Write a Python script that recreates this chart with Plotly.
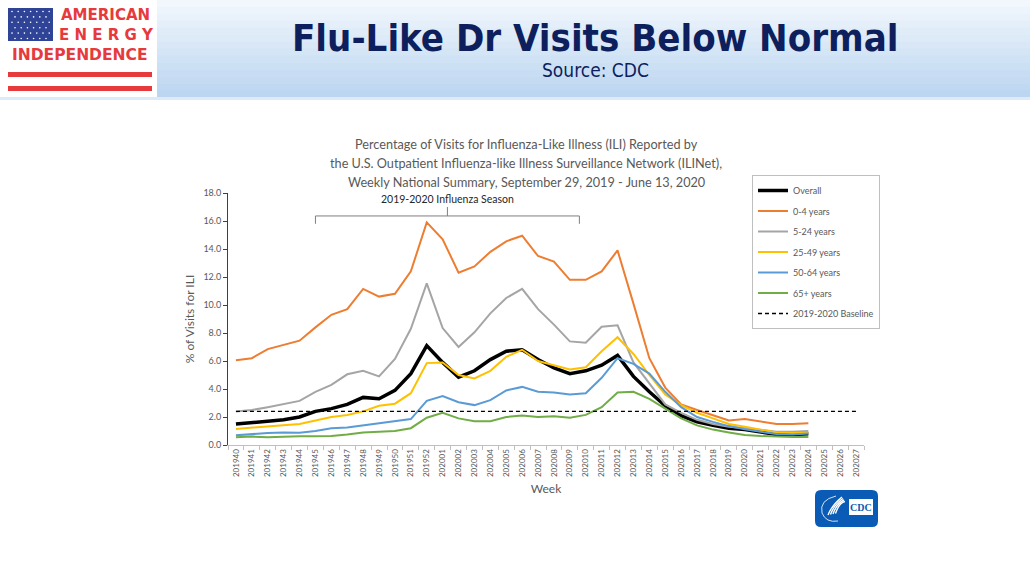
import plotly.graph_objects as go

# weekly national summary, % of visits for ILI
weeks = [f"2019{w}" for w in range(40, 53)] + [f"2020{w:02d}" for w in range(1, 28)]

overall = [1.5, 1.6, 1.7, 1.8, 2.0, 2.4, 2.6, 2.9, 3.4, 3.3, 3.9, 5.1, 7.1,
           5.9, 4.85, 5.3, 6.1, 6.7, 6.8, 6.1, 5.5, 5.1, 5.3, 5.7, 6.4, 4.9, 3.8,
           2.8, 2.1, 1.65, 1.4, 1.2, 1.1, 0.95, 0.75, 0.75, 0.8]
age_0_4 = [6.05, 6.2, 6.85, 7.15, 7.45, 8.4, 9.3, 9.7, 11.15, 10.6, 10.8, 12.4, 15.9,
           14.7, 12.3, 12.75, 13.8, 14.55, 14.95, 13.5, 13.1, 11.8, 11.8, 12.4, 13.9, 10.1, 6.2,
           4.1, 2.9, 2.5, 2.15, 1.75, 1.85, 1.65, 1.5, 1.5, 1.55]
age_5_24 = [2.4, 2.5, 2.7, 2.95, 3.15, 3.8, 4.3, 5.05, 5.3, 4.9, 6.15, 8.3, 11.55,
            8.35, 7.0, 8.05, 9.4, 10.5, 11.15, 9.7, 8.6, 7.4, 7.3, 8.45, 8.55, 5.9, 4.4,
            2.9, 2.3, 1.8, 1.5, 1.3, 1.2, 1.1, 0.95, 0.95, 1.0]
age_25_49 = [1.15, 1.25, 1.35, 1.45, 1.5, 1.75, 2.0, 2.15, 2.4, 2.8, 2.95, 3.7, 5.85,
             5.9, 5.0, 4.75, 5.3, 6.3, 6.8, 6.0, 5.7, 5.4, 5.55, 6.7, 7.7, 6.5, 5.0,
             3.6, 2.85, 2.3, 1.9, 1.5, 1.3, 1.12, 0.9, 0.85, 0.88]
age_50_64 = [0.7, 0.8, 0.85, 0.9, 0.88, 1.0, 1.2, 1.25, 1.4, 1.55, 1.65, 1.85, 3.15,
             3.5, 3.05, 2.85, 3.2, 3.9, 4.15, 3.8, 3.75, 3.6, 3.7, 4.8, 6.2, 5.8, 5.1,
             3.8, 2.7, 2.0, 1.65, 1.35, 1.12, 0.95, 0.78, 0.75, 0.82]
age_65 = [0.55, 0.6, 0.55, 0.6, 0.62, 0.62, 0.65, 0.75, 0.9, 0.95, 1.0, 1.2, 1.95,
          2.3, 1.9, 1.7, 1.7, 2.0, 2.1, 2.0, 2.05, 1.95, 2.15, 2.7, 3.75, 3.8, 3.3,
          2.6, 1.9, 1.4, 1.1, 0.9, 0.72, 0.64, 0.58, 0.57, 0.58]
baseline = 2.4

series = [
    ("Overall", overall, "#000000", 3.5),
    ("0-4 years", age_0_4, "#ED7D31", 2),
    ("5-24 years", age_5_24, "#A5A5A5", 2),
    ("25-49 years", age_25_49, "#FFC000", 2),
    ("50-64 years", age_50_64, "#5B9BD5", 2),
    ("65+ years", age_65, "#70AD47", 2),
]

# plot area in pixels
L, R, T, B = 228, 864, 193, 445


def px(x):
    return (x - L) / (R - L)


def py(y):
    return (B - y) / (B - T)


fig = go.Figure()

for name, vals, color, width in series:
    fig.add_trace(go.Scatter(
        x=weeks[:len(vals)], y=vals, mode="lines", name=name, legendgroup=name,
        line=dict(color=color, width=width),
    ))

fig.add_trace(go.Scatter(
    x=weeks, y=[baseline] * len(weeks), mode="lines", name="2019-2020 Baseline",
    legendgroup="base", line=dict(color="#000000", width=1.3, dash="4px,3px"),
))

shapes = []
annotations = []

# header band (vertical gradient)
top_c = (242, 247, 253)
bot_c = (188, 214, 241)
n = 14
for i in range(n):
    t = i / (n - 1)
    c = tuple(int(top_c[k] + (bot_c[k] - top_c[k]) * t) for k in range(3))
    shapes.append(dict(type="rect", xref="paper", yref="paper", layer="below",
                       x0=px(0), x1=px(1030), y0=py(i * 97 / n), y1=py((i + 1) * 97 / n + 0.5),
                       fillcolor="rgb(%d,%d,%d)" % c, line=dict(width=0)))
shapes.append(dict(type="rect", xref="paper", yref="paper", layer="below",
                   x0=px(0), x1=px(1030), y0=py(97), y1=py(100),
                   fillcolor="#DDEBF8", line=dict(width=0)))

# logo
red = "#E63A3D"
shapes.append(dict(type="rect", xref="paper", yref="paper", x0=px(0), x1=px(157),
                   y0=py(0), y1=py(97), fillcolor="white", line=dict(width=0)))
shapes.append(dict(type="rect", xref="paper", yref="paper", x0=px(8), x1=px(53),
                   y0=py(8), y1=py(41), fillcolor="#2F4496", line=dict(width=0)))
for r in range(6):
    for c in range(7):
        cx = 12 + c * 6.2 + (3 if r % 2 else 0)
        cy = 11.5 + r * 5.4
        if cx > 51:
            continue
        shapes.append(dict(type="circle", xref="paper", yref="paper",
                           x0=px(cx - 0.8), x1=px(cx + 0.8), y0=py(cy - 0.8), y1=py(cy + 0.8),
                           fillcolor="white", line=dict(width=0)))
for y0 in (72, 86):
    shapes.append(dict(type="rect", xref="paper", yref="paper", x0=px(8), x1=px(152),
                       y0=py(y0), y1=py(y0 + 5), fillcolor=red, line=dict(width=0)))
annotations += [
    dict(text="<b>AMERICAN</b>", x=px(106), y=py(15), font=dict(size=15, color=red, family="DejaVu Sans")),
    dict(text="<b>E N E R G Y</b>", x=px(107), y=py(35), font=dict(size=15, color=red, family="DejaVu Sans")),
    dict(text="<b>INDEPENDENCE</b>", x=px(80), y=py(55), font=dict(size=15.5, color=red, family="DejaVu Sans")),
]

# slide titles
annotations += [
    dict(text="<b>Flu-Like Dr Visits Below Normal</b>", x=px(595), y=py(38),
         font=dict(size=38, color="#0D1F5C", family="DejaVu Sans Condensed")),
    dict(text="Source: CDC", x=px(595), y=py(70),
         font=dict(size=19, color="#0D1F5C", family="DejaVu Sans Condensed")),
]

# chart title
chart_title = ["Percentage of Visits for Influenza-Like Illness (ILI) Reported by",
               "the U.S. Outpatient Influenza-like Illness Surveillance Network (ILINet),",
               "Weekly National Summary, September 29, 2019 - June 13, 2020"]
for i, line in enumerate(chart_title):
    annotations.append(dict(text=line, x=px(526), y=py(144 + i * 19),
                            font=dict(size=12.7, color="#595959", family="Lato")))

# influenza season bracket
for s in [dict(x0=5, x1=21.6, y0=16.36, y1=16.36),
          dict(x0=5, x1=5, y0=16.36, y1=15.8),
          dict(x0=21.6, x1=21.6, y0=16.36, y1=15.8),
          dict(x0=13.3, x1=13.3, y0=16.36, y1=17.0)]:
    shapes.append(dict(type="line", xref="x", yref="y", line=dict(color="#7F7F7F", width=1), **s))
annotations.append(dict(text="2019-2020 Influenza Season", xref="x", yref="y", x=13.3, y=17.6,
                        font=dict(size=10.5, color="#262626", family="Lato")))

# CDC logo
cdc_x0, cdc_x1, cdc_y0, cdc_y1, rr = 815, 878, 490, 527, 6
path = (f"M {px(cdc_x0 + rr)},{py(cdc_y0)} L {px(cdc_x1 - rr)},{py(cdc_y0)} "
        f"Q {px(cdc_x1)},{py(cdc_y0)} {px(cdc_x1)},{py(cdc_y0 + rr)} L {px(cdc_x1)},{py(cdc_y1 - rr)} "
        f"Q {px(cdc_x1)},{py(cdc_y1)} {px(cdc_x1 - rr)},{py(cdc_y1)} L {px(cdc_x0 + rr)},{py(cdc_y1)} "
        f"Q {px(cdc_x0)},{py(cdc_y1)} {px(cdc_x0)},{py(cdc_y1 - rr)} L {px(cdc_x0)},{py(cdc_y0 + rr)} "
        f"Q {px(cdc_x0)},{py(cdc_y0)} {px(cdc_x0 + rr)},{py(cdc_y0)} Z")
shapes.append(dict(type="path", xref="paper", yref="paper", path=path,
                   fillcolor="#0A5BB5", line=dict(width=0)))
# circle outline and stylised eagle
shapes.append(dict(type="path", xref="paper", yref="paper",
                   path=(f"M {px(836)},{py(496)} Q {px(819)},{py(500)} {px(822)},{py(513)} "
                         f"Q {px(826)},{py(523)} {px(838)},{py(521)}"),
                   line=dict(color="#CFE0F5", width=1)))
for k in range(4):
    shapes.append(dict(type="path", xref="paper", yref="paper",
                       path=(f"M {px(828 + k * 2.5)},{py(515 - k * 0.5)} "
                             f"Q {px(832 + k * 2.5)},{py(505 - k)} {px(842 + k)},{py(497 + k * 1.5)}"),
                       line=dict(color="white", width=1.4)))
shapes.append(dict(type="rect", xref="paper", yref="paper", x0=px(849), x1=px(873),
                   y0=py(499), y1=py(515), fillcolor="white", line=dict(width=0)))
annotations.append(dict(text="<b>CDC</b>", x=px(861), y=py(507),
                        font=dict(size=10, color="#0A5BB5", family="Liberation Serif")))

for a in annotations:
    a.setdefault("xref", "paper")
    a.setdefault("yref", "paper")
    a["xanchor"] = "center"
    a["yanchor"] = "middle"
    a["showarrow"] = False

fig.update_layout(
    width=1030, height=579,
    margin=dict(l=L, r=1030 - R, t=T, b=579 - B, autoexpand=False),
    paper_bgcolor="white", plot_bgcolor="rgba(0,0,0,0)",
    showlegend=True,
    legend=dict(x=px(752), y=py(175), xanchor="left", yanchor="top",
                bgcolor="white", bordercolor="#BFBFBF", borderwidth=1,
                font=dict(size=9, color="#595959", family="Lato"),
                tracegroupgap=1.5, itemwidth=30),
    shapes=shapes, annotations=annotations,
    font=dict(family="Lato", color="#595959"),
)

fig.update_xaxes(
    type="category", range=[-0.5, len(weeks) - 0.5], tickangle=-90,
    tickson="boundaries", ticks="outside", ticklen=4, tickcolor="#BFBFBF",
    showline=True, linecolor="#BFBFBF", linewidth=1, showgrid=False, zeroline=False,
    tickfont=dict(size=8, color="#595959"),
    title=dict(text="Week", font=dict(size=12, color="#595959"), standoff=8),
)
fig.update_yaxes(
    range=[0, 18], dtick=2, tickformat=".1f", ticks="outside", ticklen=4,
    tickcolor="#404040", showline=True, linecolor="#404040", linewidth=1,
    showgrid=False, zeroline=False, tickfont=dict(size=9, color="#595959"),
    title=dict(text="% of Visits for ILI", font=dict(size=12, color="#595959"), standoff=6),
)

fig.write_html("out.html", config={"displayModeBar": False},
               post_script="document.body.style.margin = '0px';")
